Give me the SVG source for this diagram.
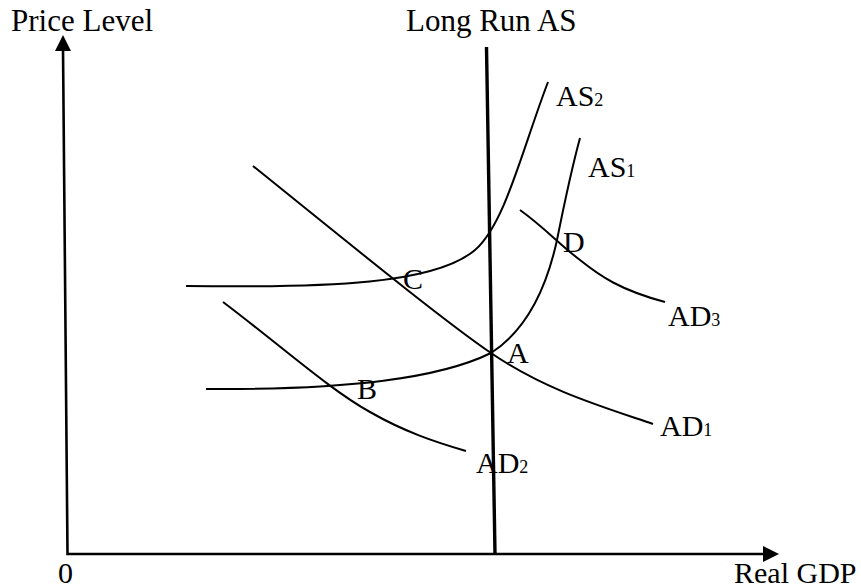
<svg xmlns="http://www.w3.org/2000/svg" width="861" height="588" viewBox="0 0 861 588">
  <style>
    text { font-family: "Liberation Serif", "Times New Roman", serif; fill: #000; font-size: 30px; }
    .axislbl { font-size: 31px; }
    .sub { font-size: 18px; }
    .axis { stroke: #000; stroke-width: 2.6; fill: none; }
    .lras { stroke: #000; stroke-width: 3.4; fill: none; }
    .curve { stroke: #000; stroke-width: 2; fill: none; }
  </style>
  <rect width="861" height="588" fill="#fff"/>

  <g id="axes">
    <path class="axis" d="M63,48 L67.5,554 L766,554"/>
    <polygon points="63,35 55,51 71,51" fill="#000"/>
    <polygon points="779,554 763,546 763,562" fill="#000"/>
    <text id="y-label" class="axislbl" x="11" y="31">Price Level</text>
    <text id="origin" x="58" y="583">0</text>
    <text id="x-label" x="734" y="583">Real GDP</text>
  </g>

  <g id="long-run-as">
    <path class="lras" d="M486.5,47 L495,554"/>
    <text class="axislbl" x="406" y="31">Long Run AS</text>
  </g>

  <g id="as2">
    <path class="curve" d="M186,286 C330,288 435,284 475,250 C505,224 522,150 548,82"/>
    <text x="556" y="106">AS<tspan class="sub">2</tspan></text>
  </g>

  <g id="as1">
    <path class="curve" d="M206,389 C350,390 440,378 491,353 C522,333 545,295 557,240 C566,195 574,160 580,138"/>
    <text x="588" y="177">AS<tspan class="sub">1</tspan></text>
  </g>

  <g id="ad1">
    <path class="curve" d="M253,166 C340,236 440,318 491,353 C545,390 600,406 653,424"/>
    <text x="660" y="436">AD<tspan class="sub">1</tspan></text>
  </g>

  <g id="ad2">
    <path class="curve" d="M223,302 C280,345 330,390 370,412 C405,432 435,442 466,451"/>
    <text x="476" y="473">AD<tspan class="sub">2</tspan></text>
  </g>

  <g id="ad3">
    <path class="curve" d="M520,210 C545,228 560,245 580,260 C600,276 620,290 665,302"/>
    <text x="668" y="326">AD<tspan class="sub">3</tspan></text>
  </g>

  <g id="points">
    <text id="pt-a" x="507" y="363">A</text>
    <text id="pt-b" x="357" y="399">B</text>
    <text id="pt-c" x="403" y="289">C</text>
    <text id="pt-d" x="563" y="252">D</text>
  </g>
</svg>
